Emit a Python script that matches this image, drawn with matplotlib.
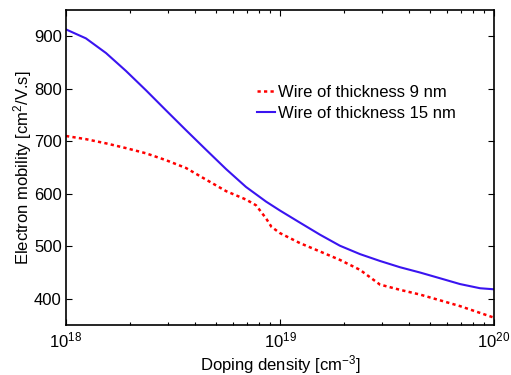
import numpy as np
import matplotlib
matplotlib.use("Agg")
import matplotlib.pyplot as plt
from matplotlib.ticker import LogLocator, FixedLocator

plt.rcParams['font.family'] = ['Liberation Sans', 'DejaVu Sans']
plt.rcParams['mathtext.fontset'] = 'custom'
plt.rcParams['mathtext.rm'] = 'Liberation Sans'
plt.rcParams['mathtext.it'] = 'Liberation Sans'

# log10 of doping density (cm^-3)
log_doping_15 = [18.0, 18.093, 18.187, 18.280, 18.374, 18.467, 18.561, 18.654,
                 18.748, 18.841, 18.935, 19.0, 19.093, 19.187, 19.280, 19.374,
                 19.467, 19.561, 19.654, 19.748, 19.841, 19.935, 20.0]
mobility_15 = [913, 896, 868, 834, 797, 759, 721, 684,
               647, 613, 585, 568, 545, 522, 501, 485,
               472, 460, 450, 439, 428, 420, 418]

log_doping_9 = [18.0, 18.093, 18.187, 18.280, 18.374, 18.467, 18.561, 18.654,
                18.748, 18.841, 18.888, 18.935, 18.96, 19.0, 19.093, 19.187,
                19.280, 19.374, 19.467, 19.561, 19.654, 19.748, 19.841, 19.935, 20.0]
mobility_9 = [710, 704, 696, 687, 677, 664, 649, 627,
              605, 589, 578, 553, 537, 525, 506, 490,
              474, 455, 427, 417, 408, 397, 386, 373, 364]

labels = ['Wire of thickness 9 nm', 'Wire of thickness 15 nm']

fig = plt.figure(figsize=(5.11, 3.75), dpi=100)
ax = fig.add_axes([66/511, 50/375, 428/511, 315/375])

ax.plot(10**np.array(log_doping_9), mobility_9, color='#ff0000', lw=1.8,
        linestyle=(0, (1.3, 1.3)), label=labels[0])
ax.plot(10**np.array(log_doping_15), mobility_15, color='#3a14f0', lw=1.5,
        linestyle='-', label=labels[1])

ax.set_xscale('log')
ax.set_xlim(1e18, 1e20)
ax.set_ylim(350, 950)
ax.yaxis.set_major_locator(FixedLocator([400, 500, 600, 700, 800, 900]))
ax.xaxis.set_major_locator(LogLocator(base=10, numticks=5))
ax.xaxis.set_minor_locator(LogLocator(base=10, subs=np.arange(2, 10), numticks=20))

ax.tick_params(which='both', direction='in', top=True, right=True, labelsize=12,
               width=0.8)
ax.tick_params(which='major', length=4)
ax.tick_params(which='minor', length=2.5)
ax.tick_params(axis='x', which='major', pad=4)
ax.tick_params(axis='y', which='major', pad=3)
for s in ax.spines.values():
    s.set_linewidth(1.2)

ax.set_xlabel('Doping density [cm$^{-3}$]', fontsize=12, labelpad=2)
ax.set_ylabel('Electron mobility [cm$^2$/V.s]', fontsize=12, labelpad=0)

ax.legend(loc='upper left', bbox_to_anchor=(0.430, 0.784), frameon=False,
          fontsize=12, handlelength=1.1, handletextpad=0.15, labelspacing=0.35,
          borderaxespad=0)

fig.savefig('out.png', dpi=100)
